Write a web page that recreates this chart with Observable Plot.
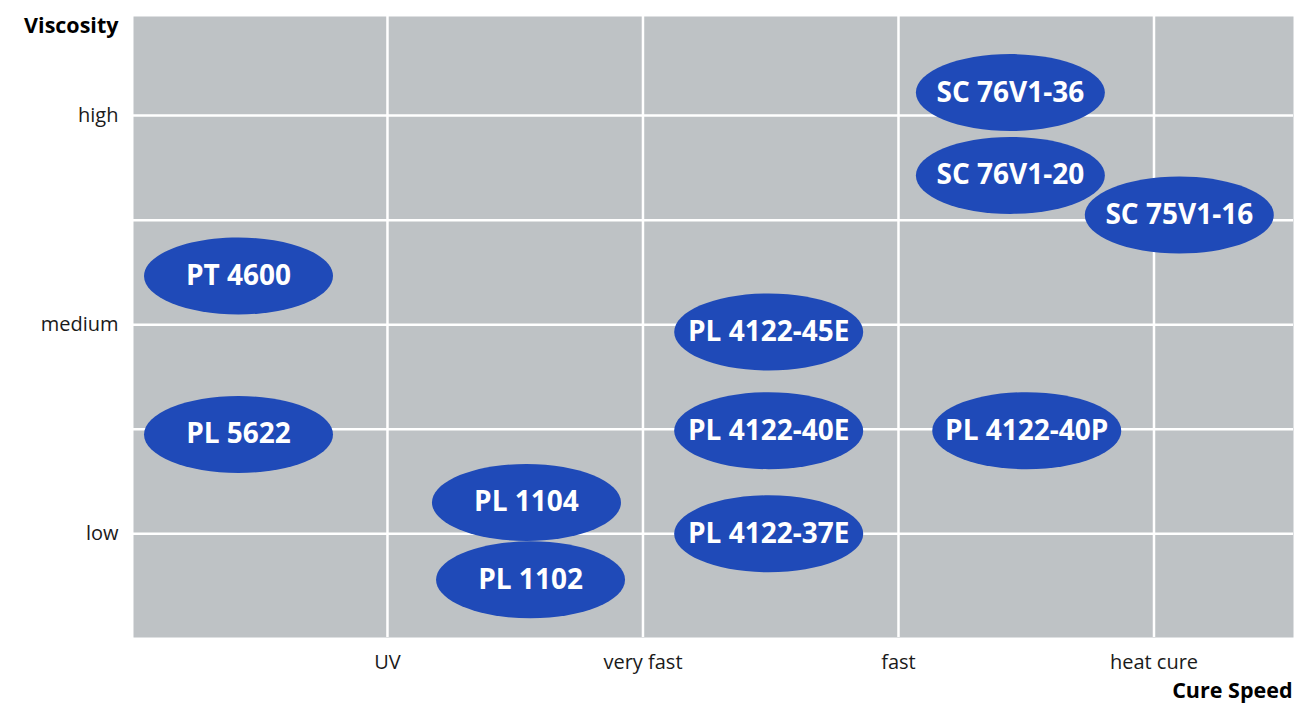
<!DOCTYPE html>
<html>
<head>
<meta charset="utf-8">
<script src="https://cdn.jsdelivr.net/npm/d3@7"></script>
<script src="https://cdn.jsdelivr.net/npm/@observablehq/plot@0.6"></script>
<style>
  html, body { margin: 0; padding: 0; background: #ffffff; }
  #chart { width: 1316px; height: 704px; }
</style>
</head>
<body>
<div id="chart"></div>
<script>
// ---- data ----
const products  = ["PT 4600", "PL 5622", "PL 1104", "PL 1102", "PL 4122-45E", "PL 4122-40E", "PL 4122-37E", "PL 4122-40P", "SC 76V1-36", "SC 76V1-20", "SC 75V1-16"];
const cureSpeed = [0.417, 0.417, 1.544, 1.56, 2.492, 2.492, 2.492, 3.502, 3.438, 3.438, 4.099];
const viscosity = [2.233, 1.475, 1.15, 0.78, 1.965, 1.493, 1.0, 1.493, 3.11, 2.714, 2.525];

const xTickValues = [1, 2, 3, 4];
const xTickLabels = ["UV", "very fast", "fast", "heat cure"];
const yTickValues = [1, 2, 3];
const yTickLabels = ["low", "medium", "high"];
const xGridValues = [1, 2, 3, 4];
const yGridValues = [1, 1.5, 2, 2.5, 3];
const xTitle = "Cure Speed";
const yTitle = "Viscosity";

const table = products.map((name, i) => ({name, x: cureSpeed[i], y: viscosity[i]}));

// ellipse symbol (drawn via bezier curves)
const RX = 94.5, RY = 38.5, K = 0.5523;
const ellipse = {
  draw(ctx) {
    ctx.moveTo(RX, 0);
    ctx.bezierCurveTo(RX, RY * K, RX * K, RY, 0, RY);
    ctx.bezierCurveTo(-RX * K, RY, -RX, RY * K, -RX, 0);
    ctx.bezierCurveTo(-RX, -RY * K, -RX * K, -RY, 0, -RY);
    ctx.bezierCurveTo(RX * K, -RY, RX, -RY * K, RX, 0);
    ctx.closePath();
  }
};

const chart = Plot.plot({
  width: 1316,
  height: 704,
  marginLeft: 133,
  marginRight: 23,
  marginTop: 16,
  marginBottom: 67,
  x: {domain: [0.006, 4.546]},
  y: {domain: [0.504, 3.474]},
  style: {fontFamily: "'Open Sans', sans-serif", fontSize: "20px", background: "#ffffff", color: "#1a1a1a"},
  marks: [
    Plot.frame({fill: "#bec2c5", stroke: null}),
    Plot.ruleX(xGridValues, {stroke: "#ffffff", strokeWidth: 2.5}),
    Plot.ruleY(yGridValues, {stroke: "#ffffff", strokeWidth: 2.5}),
    Plot.axisX(xTickValues, {
      tickFormat: d => xTickLabels[xTickValues.indexOf(d)],
      tickSize: 0, tickPadding: 17, label: null, fontSize: 20, fill: "#1a1a1a"
    }),
    Plot.axisY(yTickValues, {
      tickFormat: d => yTickLabels[yTickValues.indexOf(d)],
      tickSize: 0, tickPadding: 15, label: null, fontSize: 20, fill: "#1a1a1a"
    }),
    Plot.dot(table, {x: "x", y: "y", symbol: ellipse, r: 38.5, fill: "#1f4ab8", stroke: null}),
    Plot.text(table, {x: "x", y: "y", text: "name", fill: "#ffffff", fontSize: 28, fontWeight: "bold"}),
    Plot.text([yTitle], {frameAnchor: "top-left", textAnchor: "end", dx: -15, dy: 1, fontSize: 21.5, fontWeight: "bold", fill: "#000000"}),
    Plot.text([xTitle], {frameAnchor: "bottom-right", textAnchor: "end", dx: -1, dy: 60, fontSize: 21.5, fontWeight: "bold", fill: "#000000"})
  ]
});
document.getElementById("chart").appendChild(chart);
</script>
</body>
</html>
